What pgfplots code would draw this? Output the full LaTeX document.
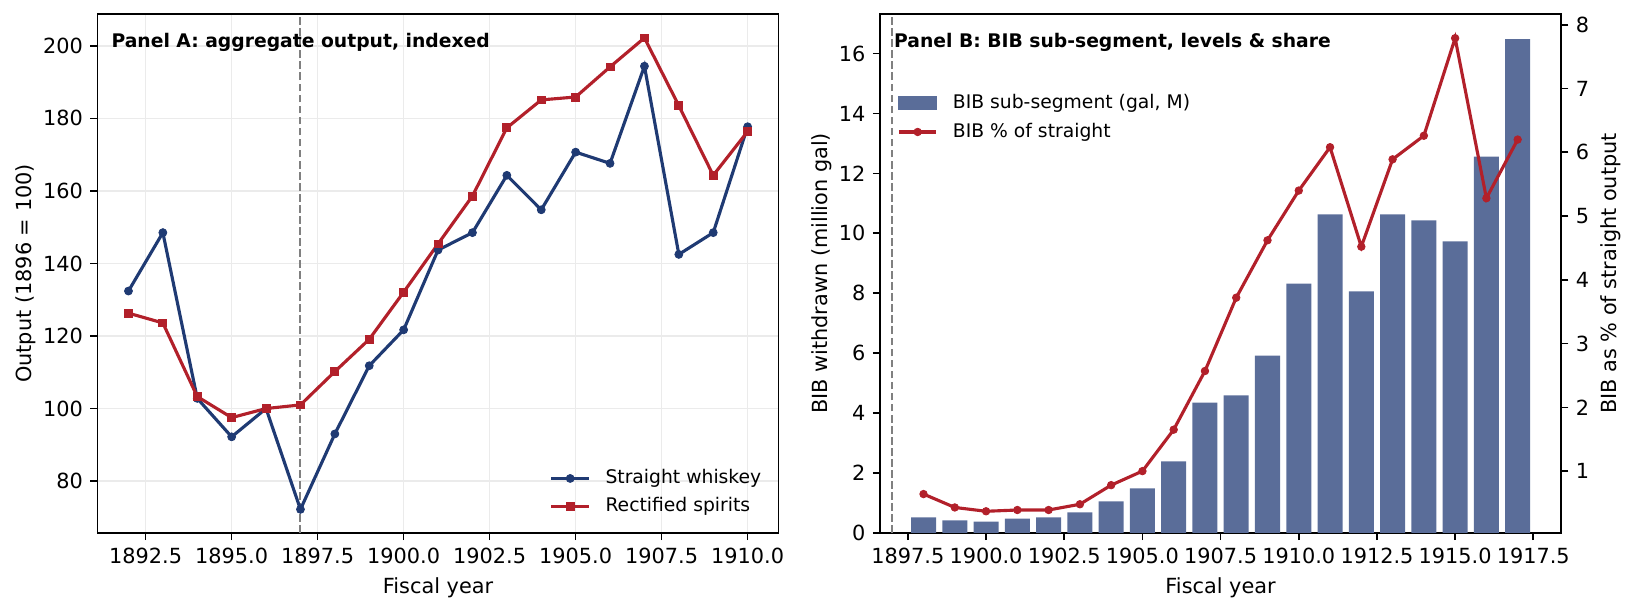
\documentclass[border=0pt]{standalone}
\usepackage{fontspec}
\setmainfont{DejaVu Sans}
\usepackage{pgfplots}
\pgfplotsset{compat=1.18}
\definecolor{sblue}{HTML}{1F3A73}
\definecolor{sred}{HTML}{B2202A}
\definecolor{barblue}{HTML}{5A6D99}
\definecolor{gridgray}{HTML}{EBEBEB}
\definecolor{vgray}{HTML}{808080}
\pgfplotsset{
  common/.style={
    scale only axis, width=326.9pt, height=249.1pt, anchor=north west,
    /pgf/number format/assume math mode=true,
    tick align=outside, major tick length=3.5pt,
    every tick/.style={black, line width=0.8pt},
    axis line style={line width=0.8pt},
    tick label style={font=\fontsize{10}{12}\selectfont},
    label style={font=\fontsize{10}{12}\selectfont},
    legend cell align=left,
    legend style={draw=none, fill=none, font=\fontsize{9}{11}\selectfont,
      nodes={inner sep=0pt, text height=6.8pt, text depth=1.9pt},
      row sep=4.8pt, column sep=7.2pt, inner sep=3.6pt},
  },
  linelegend/.style={legend image code/.code={%
    \draw[mark repeat=2,mark phase=2,##1] plot coordinates {(0pt,0pt) (9pt,0pt) (18pt,0pt)};}},
}
\begin{document}
\begin{tikzpicture}
\useasboundingbox (0,0) rectangle (783.8pt,293.8pt);
% ---------------- Panel A ----------------
\begin{axis}[common, at={(46.8pt,287.1pt)},
  xmin=1891.1, xmax=1910.9, ymin=65.7, ymax=208.8,
  xtick={1892.5,1895,1897.5,1900,1902.5,1905,1907.5,1910},
  xticklabels={1892.5,1895.0,1897.5,1900.0,1902.5,1905.0,1907.5,1910.0},
  ytick={80,100,120,140,160,180,200},
  xtick pos=bottom, ytick pos=left,
  grid=major, grid style={color=gridgray, line width=0.8pt},
  xlabel={Fiscal year}, ylabel={Output (1896 = 100)}, ylabel shift=-3.5pt,
  legend style={at={(1,0)}, anchor=south east, xshift=-4.5pt, yshift=4.5pt},
]
\addplot[forget plot, vgray, line width=1pt, dash pattern=on 3.7pt off 1.6pt] coordinates {(1897,65.7) (1897,208.8)};
\addplot[linelegend, sblue, line width=1.5pt, mark=*, mark size=1.9pt, mark options={solid, line width=0.4pt}] coordinates {
(1892,132.4) (1893,148.5) (1894,102.8) (1895,92.2) (1896,100) (1897,72.2) (1898,93.0) (1899,111.8) (1900,121.7)
(1901,143.7) (1902,148.5) (1903,164.3) (1904,154.8) (1905,170.7) (1906,167.6) (1907,194.4) (1908,142.5) (1909,148.5) (1910,177.7)};
\addlegendentry{Straight whiskey}
\addplot[linelegend, sred, line width=1.5pt, mark=square*, mark size=1.9pt, mark options={solid, line width=0.4pt}] coordinates {
(1892,126.3) (1893,123.6) (1894,103.3) (1895,97.5) (1896,100) (1897,101.0) (1898,110.2) (1899,119.1) (1900,132.1)
(1901,145.4) (1902,158.6) (1903,177.4) (1904,185.1) (1905,185.9) (1906,194.2) (1907,202.2) (1908,183.5) (1909,164.3) (1910,176.4)};
\addlegendentry{Rectified spirits}
\node[anchor=north west, inner sep=0pt, font=\bfseries\fontsize{9}{11}\selectfont] at (rel axis cs:0.02,0.963) {Panel A: aggregate output, indexed};
\end{axis}
% ---------------- Panel B (left axis) ----------------
\begin{axis}[common, at={(422.4pt,287.1pt)},
  xmin=1896.61, xmax=1918.39, ymin=0, ymax=17.32,
  xtick={1897.5,1900,1902.5,1905,1907.5,1910,1912.5,1915,1917.5},
  xticklabels={1897.5,1900.0,1902.5,1905.0,1907.5,1910.0,1912.5,1915.0,1917.5},
  ytick={0,2,4,6,8,10,12,14,16},
  xtick pos=bottom, ytick pos=left,
  xlabel={Fiscal year}, ylabel={BIB withdrawn (million gal)}, ylabel shift=-3.5pt,
]
\addplot[vgray, line width=1pt, dash pattern=on 3.7pt off 1.6pt] coordinates {(1897,0) (1897,17.32)};
\addplot[ybar, bar width=0.8, fill=barblue, draw=none] coordinates {
(1898,0.52) (1899,0.42) (1900,0.38) (1901,0.48) (1902,0.52) (1903,0.69) (1904,1.05) (1905,1.49) (1906,2.39) (1907,4.35)
(1908,4.59) (1909,5.92) (1910,8.32) (1911,10.63) (1912,8.06) (1913,10.63) (1914,10.43) (1915,9.73) (1916,12.56) (1917,16.48)};
\node[anchor=north west, inner sep=0pt, font=\bfseries\fontsize{9}{11}\selectfont] at (rel axis cs:0.02,0.963) {Panel B: BIB sub-segment, levels \& share};
\end{axis}
% ---------------- Panel B (right axis) ----------------
\begin{axis}[common, at={(422.4pt,287.1pt)},
  xmin=1896.61, xmax=1918.39, ymin=0.03, ymax=8.17,
  axis x line=none, axis y line*=right,
  ytick={1,2,3,4,5,6,7,8},
  ylabel={BIB as \% of straight output}, ylabel shift=-1.5pt,
  legend style={at={(0,1)}, anchor=north west, xshift=4.5pt, yshift=-35pt},
]
\addlegendimage{legend image code/.code={\fill[barblue] (0pt,-2.6pt) rectangle (18pt,3.5pt);}}
\addlegendentry{BIB sub-segment (gal, M)}
\addplot[linelegend, sred, line width=1.5pt, mark=*, mark size=1.8pt, mark options={solid, line width=0.4pt}] coordinates {
(1898,0.64) (1899,0.43) (1900,0.37) (1901,0.39) (1902,0.39) (1903,0.48) (1904,0.78) (1905,1.00) (1906,1.65) (1907,2.57)
(1908,3.72) (1909,4.62) (1910,5.40) (1911,6.08) (1912,4.52) (1913,5.89) (1914,6.26) (1915,7.79) (1916,5.28) (1917,6.20)};
\addlegendentry{BIB \% of straight}
\end{axis}
\end{tikzpicture}
\end{document}
